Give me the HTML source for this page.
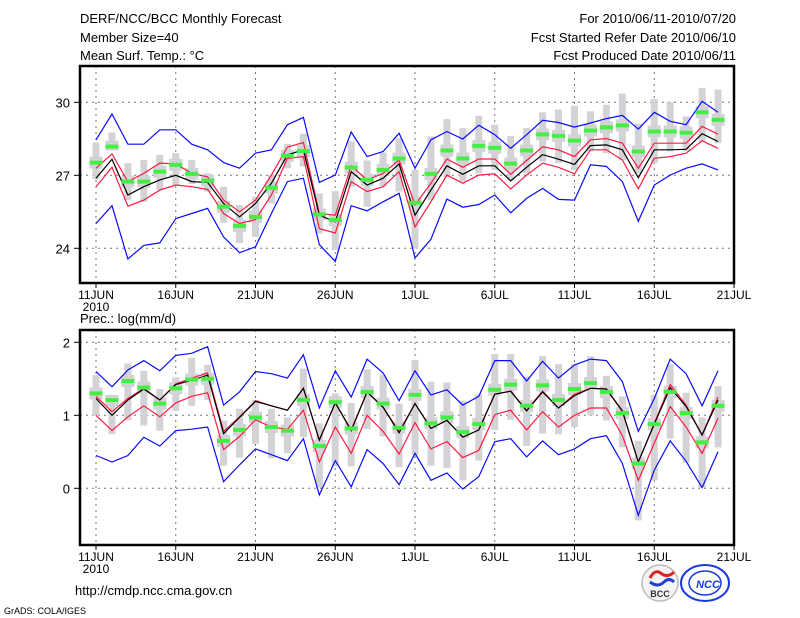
<!DOCTYPE html>
<html><head><meta charset="utf-8"><style>
body{margin:0;background:#fff;}
svg{display:block;font-family:"Liberation Sans",sans-serif;}
</style></head><body>
<svg id="c" width="800" height="618" viewBox="0 0 800 618" xmlns="http://www.w3.org/2000/svg">
<text x="80" y="23" font-size="13">DERF/NCC/BCC Monthly Forecast</text>
<text x="80" y="42" font-size="13">Member Size=40</text>
<text x="80" y="60" font-size="13">Mean Surf. Temp.: °C</text>
<text x="736" y="23" font-size="13" text-anchor="end">For 2010/06/11-2010/07/20</text>
<text x="736" y="42" font-size="13" text-anchor="end">Fcst Started Refer Date 2010/06/10</text>
<text x="736" y="60" font-size="13" text-anchor="end">Fcst Produced Date 2010/06/11</text>
<text x="80" y="323" font-size="13">Prec.: log(mm/d)</text>
<text x="75" y="595" font-size="13">http://cmdp.ncc.cma.gov.cn</text>
<text x="4" y="614" font-size="9">GrADS: COLA/IGES</text>
<g>
<circle cx="660" cy="583" r="18" fill="#f4f4f4" stroke="#bbb" stroke-width="1.5"/>
<path d="M650 578 q5 -10 12 -4 q6 4 12 -2" stroke="#e02020" stroke-width="3" fill="none"/>
<path d="M650 582 q8 6 14 0 q5 -5 10 0" stroke="#2040d0" stroke-width="3" fill="none"/>
<text x="660" y="597" font-size="9" font-weight="bold" text-anchor="middle" fill="#333">BCC</text>
</g>
<g>
<ellipse cx="705" cy="583" rx="24" ry="18" fill="#fff" stroke="#1a3ae0" stroke-width="2"/>
<ellipse cx="705" cy="583" rx="16" ry="12" fill="none" stroke="#1a3ae0" stroke-width="1.5"/>
<text x="708" y="588" font-size="11" font-weight="bold" font-style="italic" text-anchor="middle" fill="#1a3ae0">NCC</text>
</g>
</svg>
<script>
const days=['11JUN','16JUN','21JUN','26JUN','1JUL','6JUL','11JUL','16JUL','21JUL'];
const tTicks=[24,27,30];
const pTicks=[0,1,2];
const tMean=[26.88,27.66,26.19,26.53,26.81,27.00,26.74,26.71,25.84,25.29,25.84,26.67,27.84,28.05,25.36,25.09,27.15,26.60,26.88,27.47,25.36,26.39,27.39,27.04,27.39,27.39,26.77,27.33,27.85,27.66,27.45,28.22,28.25,28.05,26.90,28.05,28.05,28.07,28.71,28.39];
const tRedHi=[27.29,27.88,26.74,27.08,27.50,27.47,27.08,26.94,25.98,25.50,25.98,27.01,28.16,28.35,25.43,25.36,27.39,26.81,27.08,27.63,25.78,26.67,27.67,27.33,27.67,27.67,27.04,27.61,28.17,28.05,27.77,28.46,28.51,28.32,27.29,28.32,28.32,28.32,29.01,28.69];
const tRedLo=[26.53,27.33,25.73,25.98,26.39,26.60,26.53,26.42,25.43,25.02,25.18,26.19,27.70,27.77,24.81,24.63,26.74,26.33,26.53,27.15,24.88,25.91,27.01,26.67,27.01,27.06,26.44,27.01,27.50,27.33,27.06,28.05,28.05,27.63,26.44,27.70,27.77,27.91,28.42,28.11];
const tBlueHi=[28.46,29.52,28.28,28.28,28.87,28.87,28.28,28.05,27.52,27.29,27.91,28.05,29.08,29.38,26.71,27.01,28.78,27.77,27.98,28.73,27.29,28.46,28.80,28.49,29.06,28.67,28.11,28.67,29.26,29.17,28.98,29.15,29.33,29.46,28.90,29.59,29.22,29.08,30.04,29.59];
const tBlueLo=[25.02,25.75,23.56,24.12,24.22,25.22,25.43,25.64,24.47,23.82,24.06,25.43,26.74,26.88,24.15,23.46,25.75,25.54,25.91,26.26,23.60,24.37,26.02,25.69,25.80,26.19,25.46,26.05,26.46,26.01,25.98,27.43,27.36,26.74,25.11,26.60,27.01,27.29,27.47,27.22];
const tGreen=[27.52,28.18,26.74,26.74,27.15,27.43,27.06,26.78,25.71,24.92,25.29,26.49,27.80,28.00,25.39,25.16,27.32,26.81,27.22,27.69,25.87,27.06,28.02,27.69,28.21,28.13,27.48,28.02,28.68,28.62,28.43,28.84,28.97,29.05,27.98,28.80,28.80,28.75,29.59,29.28];
const tGrayHi=[28.35,28.76,27.50,27.63,27.84,27.91,27.63,27.08,26.53,25.78,26.12,27.01,28.29,28.71,26.26,26.35,28.39,27.61,27.94,28.53,27.22,28.60,29.31,28.94,29.45,29.08,28.62,28.94,29.59,29.70,29.86,29.63,29.90,30.36,29.12,30.14,30.00,29.42,30.59,30.52];
const tGrayLo=[26.83,28.02,25.98,25.91,26.39,26.60,26.64,26.33,25.05,24.22,24.47,25.84,27.29,27.36,24.61,23.92,26.53,25.71,26.56,26.33,23.99,25.98,26.92,26.74,27.08,27.22,26.81,27.08,27.56,27.50,27.22,27.98,27.91,27.63,27.08,27.50,27.98,27.98,28.39,28.32];
const pMean=[1.23,1.00,1.21,1.36,1.21,1.42,1.48,1.55,0.75,0.97,1.19,1.13,1.07,1.37,0.66,1.17,0.79,1.32,1.11,0.76,1.16,0.82,0.93,0.70,0.80,1.29,1.33,1.06,1.32,1.10,1.27,1.37,1.36,1.06,0.36,0.88,1.38,1.12,0.73,1.21];
const pRedHi=[1.26,1.05,1.23,1.37,1.21,1.43,1.51,1.58,0.78,0.98,1.20,1.13,1.07,1.37,0.66,1.17,0.80,1.32,1.11,0.78,1.16,0.82,0.93,0.70,0.80,1.29,1.33,1.07,1.33,1.10,1.29,1.37,1.36,1.05,0.36,0.89,1.42,1.14,0.73,1.25];
const pRedLo=[1.00,0.79,0.98,1.13,0.98,1.17,1.26,1.31,0.53,0.71,0.94,0.84,0.81,1.07,0.36,0.84,0.48,1.00,0.78,0.47,0.90,0.54,0.64,0.42,0.52,1.01,1.07,0.80,1.05,0.84,1.00,1.10,1.10,0.72,0.11,0.62,1.12,0.84,0.48,0.96];
const pBlueHi=[1.60,1.39,1.62,1.75,1.61,1.82,1.85,1.94,1.14,1.32,1.60,1.57,1.51,1.83,1.10,1.61,1.25,1.77,1.58,1.20,1.61,1.28,1.35,1.14,1.26,1.75,1.75,1.47,1.74,1.51,1.69,1.77,1.75,1.46,0.78,1.23,1.77,1.57,1.13,1.61];
const pBlueLo=[0.45,0.36,0.45,0.70,0.58,0.79,0.81,0.84,0.09,0.32,0.54,0.46,0.38,0.68,-0.09,0.38,0.02,0.53,0.34,0.05,0.48,0.11,0.21,-0.01,0.16,0.64,0.68,0.43,0.65,0.46,0.54,0.68,0.72,0.34,-0.37,0.25,0.65,0.37,0.01,0.50];
const pGreen=[1.30,1.21,1.47,1.38,1.16,1.37,1.49,1.50,0.65,0.80,0.97,0.84,0.79,1.21,0.58,1.18,0.82,1.32,1.16,0.83,1.28,0.89,0.97,0.77,0.88,1.35,1.42,1.13,1.41,1.21,1.36,1.44,1.32,1.03,0.34,0.88,1.32,1.03,0.63,1.13];
const pGrayHi=[1.55,1.28,1.71,1.61,1.36,1.52,1.79,1.69,0.93,1.09,1.21,1.09,0.97,1.64,0.89,1.30,1.17,1.63,1.55,1.16,1.76,1.46,1.45,1.20,1.29,1.84,1.84,1.53,1.81,1.70,1.70,1.81,1.54,1.26,0.65,1.28,1.70,1.31,0.97,1.40];
const pGrayLo=[1.00,0.74,0.93,0.86,0.79,1.06,1.13,1.21,0.31,0.42,0.61,0.41,0.48,0.70,0.01,0.30,0.30,0.81,0.71,0.29,0.46,0.31,0.28,0.11,0.38,0.80,0.94,0.58,0.75,0.74,0.84,1.00,0.93,0.56,-0.44,0.11,0.68,0.35,0.01,0.56];

const NS='http://www.w3.org/2000/svg';
const svg=document.getElementById('c');
const X0=96, DX=(734-96)/40;
const xd=i=>X0+DX*i;
function mk(tag,attrs,parent){const e=document.createElementNS(NS,tag);for(const k in attrs)e.setAttribute(k,attrs[k]);(parent||svg).appendChild(e);return e;}

function panel(name,top,bot,yOf,ticks,s){
  const g=mk('g',{});
  
  
  // grid
  for(let k=0;k<days.length-1;k++){
    const x=xd(k*5);
    const l=mk('line',{x1:x,x2:x,y1:top,y2:bot,stroke:'#777','stroke-dasharray':'2,4','stroke-width':1},g);
    
    
  }
  ticks.forEach(t=>{
    const y=yOf(t);
    const l=mk('line',{x1:80,x2:734,y1:y,y2:y,stroke:'#777','stroke-dasharray':'2,4','stroke-width':1},g);
    
    
    const tk=mk('line',{x1:74,x2:80,y1:y,y2:y,stroke:'#000','stroke-width':1},g);
    
    
    const tx=mk('text',{x:70,y:y+5,'font-size':13,'text-anchor':'end'},g);
    tx.textContent=String(t);
    
    
  });
  // gray bars
  for(let i=0;i<40;i++){
    const x=xd(i);
    const y1=yOf(s.gh[i]),y2=yOf(s.gl[i]);
    const r=mk('rect',{x:x-3.5,y:y1,width:7,height:y2-y1,fill:'#d3d3d7'},g);
    
    
    const yg=yOf(s.gr[i]);
    const b=mk('rect',{x:x-6.5,y:Math.max(y1,yg-6),width:13,height:Math.min(y2,yg+6)-Math.max(y1,yg-6),fill:'#d3d3d7'},g);
    
    
  }
  const line=(arr,col,nm)=>{
    const p=mk('polyline',{points:arr.map((v,i)=>xd(i).toFixed(1)+','+yOf(v).toFixed(1)).join(' '),fill:'none',stroke:col,'stroke-width':1.2},g);
    
    
  };
  line(s.bh,'#0a0aff','upper-blue-line');
  line(s.bl,'#0a0aff','lower-blue-line');
  line(s.rh,'#ff1a40','upper-red-line');
  line(s.rl,'#ff1a40','lower-red-line');
  line(s.m,'#000','ensemble-mean-line');
  for(let i=0;i<40;i++){
    const r=mk('rect',{x:xd(i)-6.5,y:yOf(s.gr[i])-2,width:13,height:4,fill:'#44ee44'},g);
    
    
  }
  // frame
  const f=mk('rect',{x:80,y:top,width:654,height:bot-top,fill:'none',stroke:'#000','stroke-width':2.5},g);
  
  
  days.forEach((d,k)=>{
    const x=xd(k*5);
    const tk=mk('line',{x1:x,x2:x,y1:bot,y2:bot+5,stroke:'#000'},g);
    
    
    const tx=mk('text',{x:x,y:bot+16,'font-size':12,'text-anchor':'middle'},g);
    tx.textContent=d;
    
    
  });
  const yr=mk('text',{x:96,y:bot+28,'font-size':12,'text-anchor':'middle'},g);
  yr.textContent='2010';
  
  
}
panel('temperature-panel',66,283,v=>175.3-(v-27)*24.33,tTicks,{m:tMean,rh:tRedHi,rl:tRedLo,bh:tBlueHi,bl:tBlueLo,gr:tGreen,gh:tGrayHi,gl:tGrayLo});
panel('precipitation-panel',330,545,v=>415.3-(v-1)*73,pTicks,{m:pMean,rh:pRedHi,rl:pRedLo,bh:pBlueHi,bl:pBlueLo,gr:pGreen,gh:pGrayHi,gl:pGrayLo});
</script>
</body></html>
